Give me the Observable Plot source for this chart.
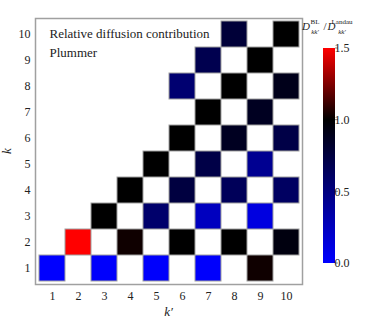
<!DOCTYPE html>
<html><head><meta charset="utf-8">
<script src="https://cdn.jsdelivr.net/npm/d3@7"></script>
<script src="https://cdn.jsdelivr.net/npm/@observablehq/plot@0.6"></script>
<style>
body{margin:0;background:#fff}
svg text, svg tspan { font-family: "Liberation Serif", "DejaVu Serif", serif !important; }
</style>
</head><body><div id="chart"></div>
<script>
const kpLabels = ["1","2","3","4","5","6","7","8","9","10"];
const kLabels = ["1","2","3","4","5","6","7","8","9","10"];
const cellK  = [1,1,1,1,1, 2,2,2,2,2, 3,3,3,3, 4,4,4,4, 5,5,5, 6,6,6, 7,7, 8,8,8, 9,9, 10,10];
const cellKp = [1,3,5,7,9, 2,4,6,8,10, 3,5,7,9, 4,6,8,10, 5,7,9, 6,8,10, 7,9, 6,8,10, 7,9, 8,10];
const ratio  = [0.0,0.01,0.01,0.01,1.03, 1.5,1.03,1.0,1.0,0.94, 1.0,0.58,0.25,0.12, 1.0,0.75,0.65,0.62, 1.0,0.72,0.43, 1.0,0.87,0.72, 1.0,0.87, 0.56,1.0,0.9, 0.69,1.0, 0.78,1.0];
const colorStops = [0, 1, 1.5];
const colorRange = ["#0000ff", "#000000", "#ff0000"];
const cbTicks = [0, 0.5, 1.0, 1.5];
const annotation = ["Relative diffusion contribution\nPlummer"];

const data = cellK.map((k, i) => ({k: String(k), kp: String(cellKp[i]), r: ratio[i]}));

const plot = Plot.plot({
  width: 374, height: 325,
  marginLeft: 35, marginRight: 72, marginTop: 18, marginBottom: 41,
  style: {fontSize: "12px", background: "#fff", color: "#222"},
  x: {type: "band", domain: kpLabels, padding: 0, label: null, tickSize: 0, tickPadding: 7},
  y: {type: "band", domain: [...kLabels].reverse(), padding: 0, label: null, tickSize: 0, tickPadding: 5},
  color: {type: "linear", domain: colorStops, range: colorRange, interpolate: "rgb", clamp: true},
  marks: [
    Plot.cell(data, {x: "kp", y: "k", fill: "r", stroke: "#a0a0a0", strokeWidth: 1, inset: 0}),
    Plot.frame({stroke: "#a0a0a0", strokeWidth: 1.5}),
    Plot.text(annotation, {frameAnchor: "top-left", dx: 14, dy: 7, lineAnchor: "top", lineHeight: 1.4, fontSize: 13, fill: "#222"})
  ]
});
document.getElementById("chart").appendChild(plot);

const svg = d3.select(plot);
const color = plot.scale("color");

// axis labels
svg.append("text").attr("x", 168.5).attr("y", 316).attr("text-anchor", "middle")
  .attr("font-style", "italic").attr("font-size", 13).attr("fill", "#222").text("k′");
svg.append("text").attr("transform", "translate(11,151) rotate(-90)").attr("text-anchor", "middle")
  .attr("font-style", "italic").attr("font-size", 13).attr("fill", "#222").text("k");

// colorbar
const cbY = d3.scaleLinear().domain([0, 1.5]).range([263, 48]);
const grad = svg.append("defs").append("linearGradient").attr("id", "cbgrad")
  .attr("x1", 0).attr("y1", 1).attr("x2", 0).attr("y2", 0);
colorStops.forEach(v => grad.append("stop").attr("offset", v / 1.5).attr("stop-color", color.apply(v)));
svg.append("rect").attr("x", 323).attr("y", 48).attr("width", 12).attr("height", 215).attr("fill", "url(#cbgrad)");
cbTicks.forEach(t => {
  svg.append("line").attr("x1", 335).attr("x2", 338).attr("y1", cbY(t)).attr("y2", cbY(t)).attr("stroke", "#888");
  svg.append("text").attr("x", 342).attr("y", cbY(t)).attr("dy", "0.35em")
    .attr("font-size", 12).attr("fill", "#222").text(t.toFixed(1));
});

// colorbar title as one text element
const title = svg.append("text").attr("x", 306).attr("y", 30).attr("font-size", 11).attr("fill", "#222");
const parts = [
  {s: "D", x: 306, y: 30, size: 11, it: true},
  {s: "BL", x: 315, y: 24, size: 7, it: false},
  {s: "kk′", x: 315, y: 34, size: 7, it: true},
  {s: "/", x: 325, y: 30, size: 11, it: false},
  {s: "D", x: 331.5, y: 30, size: 11, it: true},
  {s: "Landau", x: 342, y: 24, size: 7, it: false},
  {s: "kk′", x: 342, y: 34, size: 7, it: true}
];
parts.forEach(p => title.append("tspan").attr("x", p.x).attr("y", p.y).attr("font-size", p.size)
  .attr("font-style", p.it ? "italic" : "normal").text(p.s));
</script></body></html>
